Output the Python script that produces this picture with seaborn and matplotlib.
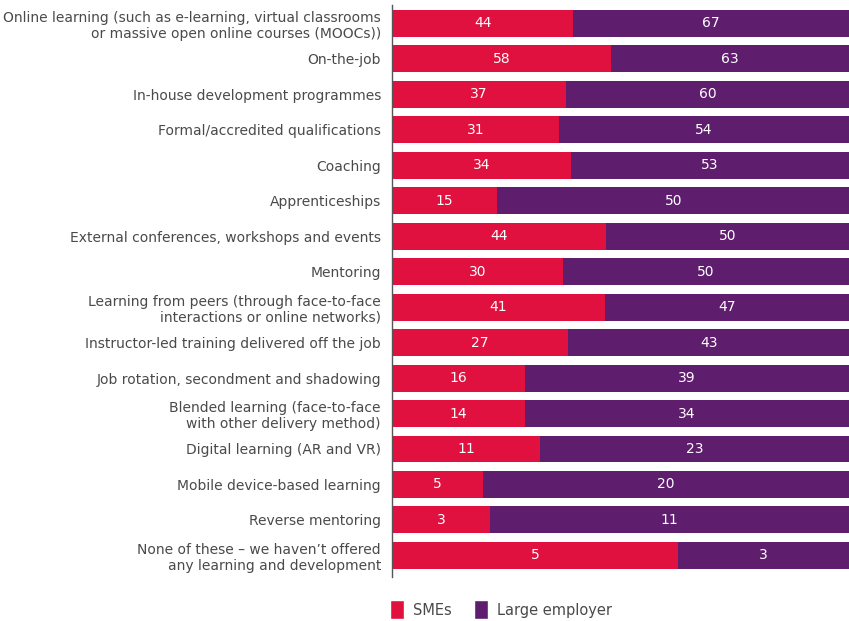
import matplotlib
matplotlib.use("Agg")
import matplotlib.pyplot as plt
from matplotlib.patches import Patch
import numpy as np
import pandas as pd
import seaborn as sns

categories = [
    "Online learning (such as e-learning, virtual classrooms\nor massive open online courses (MOOCs))",
    "On-the-job",
    "In-house development programmes",
    "Formal/accredited qualifications",
    "Coaching",
    "Apprenticeships",
    "External conferences, workshops and events",
    "Mentoring",
    "Learning from peers (through face-to-face\ninteractions or online networks)",
    "Instructor-led training delivered off the job",
    "Job rotation, secondment and shadowing",
    "Blended learning (face-to-face\nwith other delivery method)",
    "Digital learning (AR and VR)",
    "Mobile device-based learning",
    "Reverse mentoring",
    "None of these \u2013 we haven\u2019t offered\nany learning and development",
]
smes = [44, 58, 37, 31, 34, 15, 44, 30, 41, 27, 16, 14, 11, 5, 3, 5]
large = [67, 63, 60, 54, 53, 50, 50, 50, 47, 43, 39, 34, 23, 20, 11, 3]

RED = "#E0103F"
PURPLE = "#5F1D6E"
TEXT = "#4a4a4a"

sns.set_theme(style="white")
plt.rcParams["font.family"] = ["DejaVu Sans"]

df = pd.DataFrame({"category": categories, "SMEs": smes, "Large employer": large})
df["total"] = df["SMEs"] + df["Large employer"]
df["sme_share"] = df["SMEs"] / df["total"]
df["full"] = 1.0

fig = plt.figure(figsize=(8.49, 6.21), dpi=100)
ax = fig.add_axes([392 / 849, 1 - 577 / 621, 1 - 392 / 849, (577 - 5) / 621])

sns.barplot(data=df, x="full", y="category", orient="h", color=PURPLE,
            width=0.76, saturation=1, ax=ax, order=categories, linewidth=0)
sns.barplot(data=df, x="sme_share", y="category", orient="h", color=RED,
            width=0.76, saturation=1, ax=ax, order=categories, linewidth=0)

for i, row in df.iterrows():
    share = row["sme_share"]
    ax.text(share / 2, i, f"{row['SMEs']}", ha="center", va="center",
            color="white", fontsize=10)
    ax.text(share + (1 - share) / 2, i, f"{row['Large employer']}",
            ha="center", va="center", color="white", fontsize=10)

ax.set_xlim(0, 1)
ax.set_ylim(15.61, -0.52)
ax.set_xlabel("")
ax.set_ylabel("")
ax.set_xticks([])
ax.tick_params(axis="y", length=0, pad=8, labelsize=10, labelcolor=TEXT)
for lbl in ax.get_yticklabels():
    lbl.set_horizontalalignment("right")
    lbl.set_multialignment("right")
for side in ["top", "right", "bottom"]:
    ax.spines[side].set_visible(False)
ax.spines["left"].set_color("#555555")
ax.spines["left"].set_linewidth(1.0)

handles = [Patch(facecolor=RED, label="SMEs"), Patch(facecolor=PURPLE, label="Large employer")]
fig.legend(handles=handles, loc="center", bbox_to_anchor=(0.59, 0.018), ncol=2,
           frameon=False, fontsize=10.5, handlelength=1.0, handleheight=1.6,
           columnspacing=1.5, handletextpad=0.6, labelcolor=TEXT)

fig.savefig("out.png", dpi=100)
